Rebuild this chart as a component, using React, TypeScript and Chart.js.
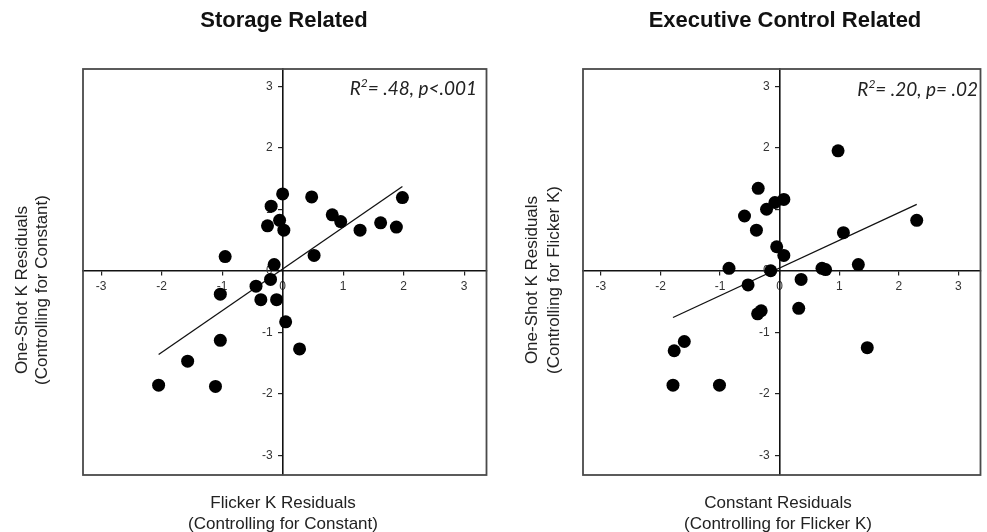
import React, { useEffect, useRef } from "react";
import { Chart, registerables } from "chart.js";

Chart.register(...registerables);

// ---- Data ----
const storageX = [0.0, 0.48, -0.19, 1.98, 0.82, 0.96, -0.05, -0.25, 0.02, 1.28, 1.62, 1.88, -0.95, 0.52, -0.14, -0.2, -0.44, -1.03, -0.36, -0.1, 0.05, 0.28, -1.03, -1.57, -2.05, -1.11];
const storageY = [1.25, 1.2, 1.05, 1.19, 0.91, 0.8, 0.82, 0.73, 0.66, 0.66, 0.78, 0.71, 0.23, 0.25, 0.1, -0.14, -0.25, -0.38, -0.47, -0.47, -0.83, -1.27, -1.13, -1.47, -1.86, -1.88];
const storageFitX = [-2.05, 1.98];
const storageFitY = [-1.36, 1.37];

const execX = [0.98, -0.36, -0.08, 0.07, -0.22, -0.59, -0.39, 2.3, 1.07, -0.05, 0.07, -0.85, -0.15, 0.71, 0.77, 1.32, -0.53, 0.36, 0.32, -0.37, -0.31, -1.6, -1.77, 1.47, -1.79, -1.01];
const execY = [1.95, 1.34, 1.11, 1.16, 1.0, 0.89, 0.66, 0.82, 0.62, 0.39, 0.25, 0.04, 0.0, 0.04, 0.02, 0.1, -0.23, -0.14, -0.61, -0.7, -0.65, -1.15, -1.3, -1.25, -1.86, -1.86];
const execFitX = [-1.79, 2.3];
const execFitY = [-0.76, 1.08];

const tickValues = [-3, -2, -1, 0, 1, 2, 3];

const storageTitle = "Storage Related";
const storageYTitle = ["One-Shot K Residuals", "(Controlling for Constant)"];
const storageXTitle = ["Flicker K Residuals", "(Controlling for Constant)"];
const storageStat = ["= .48, ", "p", "<.001"];

const execTitle = "Executive Control Related";
const execYTitle = ["One-Shot K Residuals", "(Controlling for Flicker K)"];
const execXTitle = ["Constant Residuals", "(Controlling for Flicker K)"];
const execStat = ["= .20, ", "p", "= .02"];

const X_MIN = -3.3;
const X_MAX = 3.37;
const Y_MIN = -3.32;
const Y_MAX = 3.28;

const SANS = '"Liberation Sans", Arial, sans-serif';

type PanelLayout = {
  padding: { left: number; right: number; top: number; bottom: number };
  titleX: number;
  yTitleX: [number, number];
  yTitleY: number;
  xTitleX: number;
  statRight: number;
  statY: number;
};

type PanelProps = {
  width: number;
  left: number;
  xs: number[];
  ys: number[];
  fitX: number[];
  fitY: number[];
  title: string;
  yTitle: string[];
  xTitle: string[];
  stat: string[];
  layout: PanelLayout;
};

function Panel(props: PanelProps) {
  const ref = useRef<HTMLCanvasElement | null>(null);

  useEffect(() => {
    const canvas = ref.current;
    if (!canvas) return;
    const { layout } = props;

    const textPlugin = {
      id: "panelText",
      afterDraw(chart: any) {
        const ctx: CanvasRenderingContext2D = chart.ctx;
        const a = chart.chartArea;
        ctx.save();
        // frame
        ctx.strokeStyle = "#4a4a4a";
        ctx.lineWidth = 1.8;
        ctx.strokeRect(a.left, a.top, a.right - a.left, a.bottom - a.top);

        ctx.fillStyle = "#111";
        ctx.textAlign = "center";
        ctx.textBaseline = "middle";
        ctx.font = `bold 22px ${SANS}`;
        ctx.fillText(props.title, layout.titleX, 21);

        ctx.fillStyle = "#222";
        ctx.font = `17px ${SANS}`;
        ctx.fillText(props.xTitle[0], layout.xTitleX, 503);
        ctx.fillText(props.xTitle[1], layout.xTitleX, 524);

        for (let i = 0; i < 2; i++) {
          ctx.save();
          ctx.translate(layout.yTitleX[i], layout.yTitleY);
          ctx.rotate(-Math.PI / 2);
          ctx.fillText(props.yTitle[i], 0, 0);
          ctx.restore();
        }

        // statistic annotation (R² ... , p ...)
        const big = `italic 19px Lato, ${SANS}`;
        const small = `italic 12px Lato, ${SANS}`;
        const parts = [
          { t: "R", f: big, dy: 0 },
          { t: "2", f: small, dy: -6 },
          { t: props.stat[0], f: big, dy: 0 },
          { t: props.stat[1], f: big, dy: 0 },
          { t: props.stat[2], f: big, dy: 0 },
        ];
        let total = 0;
        for (const p of parts) {
          ctx.font = p.f;
          total += ctx.measureText(p.t).width;
        }
        let x = layout.statRight - total;
        ctx.textAlign = "left";
        ctx.textBaseline = "middle";
        ctx.fillStyle = "#222";
        for (const p of parts) {
          ctx.font = p.f;
          ctx.fillText(p.t, x, layout.statY + p.dy);
          x += ctx.measureText(p.t).width;
        }
        ctx.restore();
      },
    };

    const tickFont = { family: SANS, size: 12 };

    const chart = new Chart(canvas, {
      type: "scatter",
      data: {
        datasets: [
          {
            data: props.xs.map((v, i) => ({ x: v, y: props.ys[i] })),
            pointRadius: 6.5,
            pointHoverRadius: 6.5,
            backgroundColor: "#000",
            borderWidth: 0,
          },
          {
            data: props.fitX.map((v, i) => ({ x: v, y: props.fitY[i] })),
            showLine: true,
            pointRadius: 0,
            borderColor: "#111",
            borderWidth: 1.3,
            fill: false,
          } as any,
        ],
      },
      options: {
        animation: false,
        responsive: false,
        maintainAspectRatio: false,
        events: [],
        layout: { padding: layout.padding },
        plugins: {
          legend: { display: false },
          tooltip: { enabled: false },
          title: { display: false },
        },
        scales: {
          x: {
            type: "linear",
            min: X_MIN,
            max: X_MAX,
            position: { y: 0 } as any,
            afterFit: (s: any) => {
              s.height = 0;
            },
            afterBuildTicks: (s: any) => {
              s.ticks = tickValues.map((v) => ({ value: v }));
            },
            grid: {
              drawOnChartArea: false,
              drawTicks: true,
              tickLength: 4,
              color: "#222",
              lineWidth: 1.2,
            },
            border: { display: true, color: "#111", width: 1.6 },
            ticks: {
              autoSkip: false,
              maxRotation: 0,
              padding: 5,
              color: "#333",
              font: tickFont,
            },
          },
          y: {
            type: "linear",
            min: Y_MIN,
            max: Y_MAX,
            position: { x: 0 } as any,
            afterFit: (s: any) => {
              s.width = 0;
            },
            afterBuildTicks: (s: any) => {
              s.ticks = tickValues.map((v) => ({ value: v }));
            },
            grid: {
              drawOnChartArea: false,
              drawTicks: true,
              tickLength: 4,
              color: "#222",
              lineWidth: 1.2,
            },
            border: { display: true, color: "#111", width: 1.6 },
            ticks: {
              autoSkip: false,
              color: "#333",
              font: tickFont,
              // trailing gap so labels sit left of the centred axis line
              callback: (v: any) => `${v}   `,
            },
          },
        },
      },
      plugins: [textPlugin],
    });

    return () => {
      chart.destroy();
    };
  }, []);

  return (
    <canvas
      ref={ref}
      width={props.width}
      height={532}
      style={{ position: "absolute", left: props.left, top: 0, width: props.width, height: 532, display: "block" }}
    />
  );
}

export default function App() {
  return (
    <div style={{ position: "absolute", left: 0, top: 0, width: 987, height: 532, background: "#fff", overflow: "hidden" }}>
      <Panel
        width={493}
        left={0}
        xs={storageX}
        ys={storageY}
        fitX={storageFitX}
        fitY={storageFitY}
        title={storageTitle}
        yTitle={storageYTitle}
        xTitle={storageXTitle}
        stat={storageStat}
        layout={{
          padding: { left: 83, right: 4, top: 69, bottom: 57 },
          titleX: 284,
          yTitleX: [22, 42],
          yTitleY: 290,
          xTitleX: 283,
          statRight: 477,
          statY: 89,
        }}
      />
      <Panel
        width={494}
        left={493}
        xs={execX}
        ys={execY}
        fitX={execFitX}
        fitY={execFitY}
        title={execTitle}
        yTitle={execYTitle}
        xTitle={execXTitle}
        stat={execStat}
        layout={{
          padding: { left: 90, right: 1, top: 69, bottom: 57 },
          titleX: 292,
          yTitleX: [39, 61],
          yTitleY: 280,
          xTitleX: 285,
          statRight: 485,
          statY: 90,
        }}
      />
    </div>
  );
}
